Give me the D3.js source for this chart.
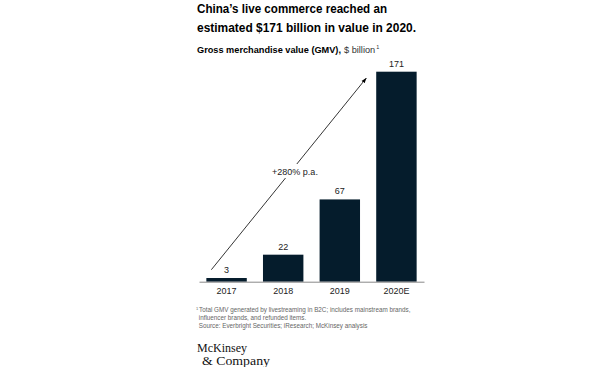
<!DOCTYPE html>
<html lang="en">
<head>
<meta charset="UTF-8">
<title>China live commerce GMV</title>
<style>
  body { margin: 0; background: #fff; font-family: "Liberation Sans", Arial, sans-serif; }
  svg { display: block; }
</style>
</head>
<body>
<script src="https://d3js.org/d3.v7.min.js"></script>
<script>
// chart data
const years = ["2017", "2018", "2019", "2020E"];
const gmv = [3, 22, 67, 171];
const titleLines = ["China\u2019s live commerce reached an", "estimated $171 billion in value in 2020."];
const growthLabel = "+280% p.a.";
const footLines = [
  "Total GMV generated by livestreaming in B2C; includes mainstream brands,",
  " influencer brands, and refunded items.",
  " Source: Everbright Securities; iResearch; McKinsey analysis"
];

const width = 600, height = 367;
const navy = "#051c2c";

const svg = d3.select("body").append("svg")
  .attr("width", width)
  .attr("height", height);

// title (reference face is narrower than Arial, so squeeze to its width)
const titleWidths = [190, 219];
titleLines.forEach((t, i) => {
  svg.append("text")
    .attr("x", 197).attr("y", 13 + i * 18.5)
    .attr("font-size", 13.3).attr("font-weight", "bold").attr("fill", "#000")
    .attr("textLength", titleWidths[i])
    .attr("lengthAdjust", "spacingAndGlyphs")
    .text(t);
});

// subtitle, in three pieces
const subBold = svg.append("text")
  .attr("x", 197).attr("y", 53)
  .attr("font-size", 9.2).attr("font-weight", "bold").attr("fill", "#000")
  .text("Gross merchandise value (GMV),");
const subEnd = 197 + subBold.node().getComputedTextLength() + 3;
const subUnit = svg.append("text")
  .attr("x", subEnd).attr("y", 53)
  .attr("font-size", 9.2).attr("fill", "#333")
  .text("$ billion");
svg.append("text")
  .attr("x", subEnd + subUnit.node().getComputedTextLength() + 1).attr("y", 48.5)
  .attr("font-size", 5.5).attr("fill", "#333")
  .text("1");

// scales
const x = d3.scaleBand()
  .domain(years)
  .range([199, 424])
  .paddingInner(0.286)
  .paddingOuter(0.13);

const y = d3.scaleLinear()
  .domain([0, 171])
  .range([281.7, 71.7]);

const data = years.map((yr, i) => ({ year: yr, value: gmv[i] }));

svg.selectAll(".bar").data(data).enter().append("rect")
  .attr("class", "bar")
  .attr("x", d => x(d.year))
  .attr("y", d => y(d.value))
  .attr("width", x.bandwidth())
  .attr("height", d => y(0) - y(d.value))
  .attr("fill", navy);

svg.selectAll(".val").data(data).enter().append("text")
  .attr("class", "val")
  .attr("x", d => x(d.year) + x.bandwidth() / 2)
  .attr("y", d => y(d.value) - 5)
  .attr("text-anchor", "middle")
  .attr("font-size", 9).attr("fill", "#222")
  .text(d => d.value);

// baseline axis
const xAxis = svg.append("g")
  .attr("transform", `translate(0,${y(0)})`)
  .call(d3.axisBottom(x).tickSize(0).tickPadding(6));
xAxis.select(".domain").attr("stroke", "#888").attr("stroke-width", 1);
xAxis.selectAll("text").attr("font-size", 9).attr("fill", "#222")
  .attr("font-family", "Liberation Sans, Arial, sans-serif");

// growth arrow
svg.append("defs").append("marker")
  .attr("id", "head")
  .attr("viewBox", "0 0 10 10")
  .attr("refX", 9).attr("refY", 5)
  .attr("markerWidth", 7).attr("markerHeight", 7)
  .attr("orient", "auto")
  .append("path").attr("d", "M0,1.5L10,5L0,8.5Z").attr("fill", "#000");

const a0 = [x("2017") + 5, y(0) - 12];
const a1 = [x("2020E") - 10, y(171) + 6.5];
svg.append("line")
  .attr("x1", a0[0]).attr("y1", a0[1])
  .attr("x2", a1[0]).attr("y2", a1[1])
  .attr("stroke", "#000").attr("stroke-width", 0.8)
  .attr("marker-end", "url(#head)");

svg.append("rect")
  .attr("x", 270).attr("y", 164).attr("width", 52).attr("height", 14)
  .attr("fill", "#fff");
svg.append("text")
  .attr("x", 295).attr("y", 174.5)
  .attr("text-anchor", "middle")
  .attr("font-size", 9).attr("fill", "#222")
  .text(growthLabel);

// footnote
const foot = svg.append("text")
  .attr("font-size", 6.3).attr("fill", "#666");
foot.selectAll("tspan").data(footLines).enter().append("tspan")
  .attr("x", 197)
  .attr("y", (d, i) => 312 + i * 7.8)
  .text(d => d);
foot.insert("tspan", "tspan").attr("x", 196).attr("y", 310).attr("font-size", 4).text("1");
foot.selectAll("tspan").filter((d, i) => i === 1).attr("x", 199);

// logo
const logoFont = "Liberation Serif, Times New Roman, serif";
svg.append("text")
  .attr("x", 197).attr("y", 352)
  .attr("font-family", logoFont)
  .attr("font-size", 12).attr("fill", "#111")
  .attr("textLength", 50).attr("lengthAdjust", "spacingAndGlyphs")
  .text("McKinsey");
svg.append("text")
  .attr("x", 202).attr("y", 364.5)
  .attr("font-family", logoFont)
  .attr("font-size", 12).attr("fill", "#111")
  .attr("textLength", 68).attr("lengthAdjust", "spacingAndGlyphs")
  .text("& Company");
</script>
</body>
</html>
